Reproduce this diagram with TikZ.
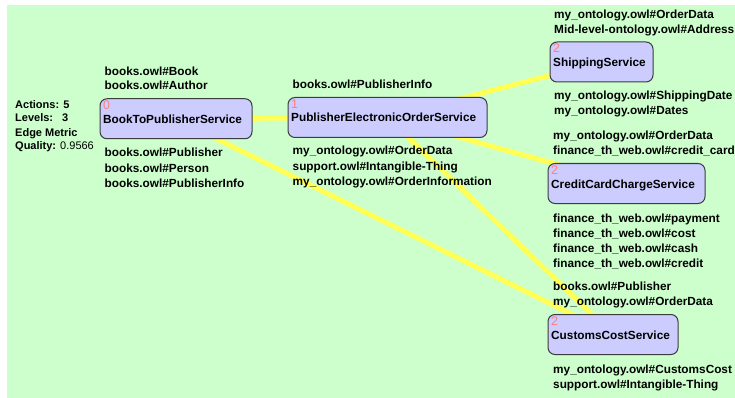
\documentclass[tikz,border=0pt]{standalone}
\usepackage{fontspec}
\setmainfont{Liberation Sans}
\usetikzlibrary{calc}
\definecolor{panelgreen}{HTML}{CCFFCC}
\definecolor{svcfill}{HTML}{CCCCFF}
\definecolor{svcedge}{HTML}{3C3C3C}
\definecolor{linkyellow}{HTML}{FFFF55}
\definecolor{lvlred}{HTML}{FF7F7F}
\pgfdeclarelayer{panel}
\pgfdeclarelayer{links}
\pgfsetlayers{panel,links,main}

\begin{document}
\begin{tikzpicture}[x=1pt,y=-1pt,
  svc/.style={draw=svcedge,fill=svcfill,rounded corners=7pt,line width=1pt,minimum height=40pt,inner sep=0pt},
  lbl/.style={anchor=base west,inner sep=0pt,font=\fontsize{11.8}{14}\selectfont\bfseries},
  stat/.style={anchor=base west,inner sep=0pt,font=\fontsize{11}{13}\selectfont\bfseries},
  lvl/.style={anchor=base west,inner sep=0pt,text=lvlred,font=\fontsize{12.5}{14}\selectfont},
  link/.style={linkyellow,line width=5pt}]
\useasboundingbox (0,0) rectangle (735,398);
\clip (0,0) rectangle (735,398);
\begin{pgfonlayer}{panel}
\fill[panelgreen] (7,5) rectangle (735,398);
\end{pgfonlayer}
% service boxes
\foreach \nm/\cx/\cy/\w/\lv/\txt in {
  bookpub/176/118.75/152/0/BookToPublisherService,
  pubeorder/387.5/117.5/199/1/PublisherElectronicOrderService,
  shipping/601.5/62/103/2/ShippingService,
  cardcharge/626.5/183.5/157/2/CreditCardChargeService,
  customs/613/334.5/130/2/CustomsCostService}{
  \node[svc,minimum width=\w pt] (\nm) at (\cx,\cy) {};
  \node[lvl] (\nm-lv) at ($(\nm.north west)+(3.5,11.5)$) {\lv};
  \node[lbl] (\nm-tx) at ($(\nm.north west)+(3.5,25)$) {\txt};
}
% links
\begin{pgfonlayer}{links}
\draw[link] (bookpub.center) -- (pubeorder.center);
\draw[link] (pubeorder.center) -- (shipping.center);
\draw[link] (pubeorder.center) -- (cardcharge.center);
\draw[link] (pubeorder.center) -- (customs.center);
\draw[link] (bookpub.center) -- (customs.center);
\end{pgfonlayer}
% metrics
\foreach \y/\t [count=\i] in {109/Actions: 5, 121.5/Levels:\hspace{9pt}3,
  137/Edge Metric, 149.5/Quality: {\mdseries 0.9566}}
  \node[stat] (stat\i) at (15,\y) {\t};
% inputs and outputs
\foreach \x/\y/\t [count=\i] in {
  104.5/75.5/books.owl\#Book, 104.5/90/books.owl\#Author,
  104.5/157/books.owl\#Publisher, 104.5/172/books.owl\#Person,
  104.5/187/books.owl\#PublisherInfo,
  292.5/89/books.owl\#PublisherInfo,
  292.5/155/my\_ontology.owl\#OrderData, 292.5/170/support.owl\#Intangible-Thing,
  292.5/185/my\_ontology.owl\#OrderInformation,
  554/18.5/my\_ontology.owl\#OrderData, 554/33.5/Mid-level-ontology.owl\#Address,
  554/99.5/my\_ontology.owl\#ShippingDate, 554/114.5/my\_ontology.owl\#Dates,
  553/140/my\_ontology.owl\#OrderData, 553/155/finance\_th\_web.owl\#credit\_card,
  553/222/finance\_th\_web.owl\#payment, 553/237.5/finance\_th\_web.owl\#cost,
  553/252.5/finance\_th\_web.owl\#cash, 553/267.5/finance\_th\_web.owl\#credit,
  553/290.5/books.owl\#Publisher, 553/305.5/my\_ontology.owl\#OrderData,
  553/373/my\_ontology.owl\#CustomsCost, 553/388/support.owl\#Intangible-Thing}
  \node[lbl] (tag\i) at (\x,\y) {\t};
\end{tikzpicture}
\end{document}
